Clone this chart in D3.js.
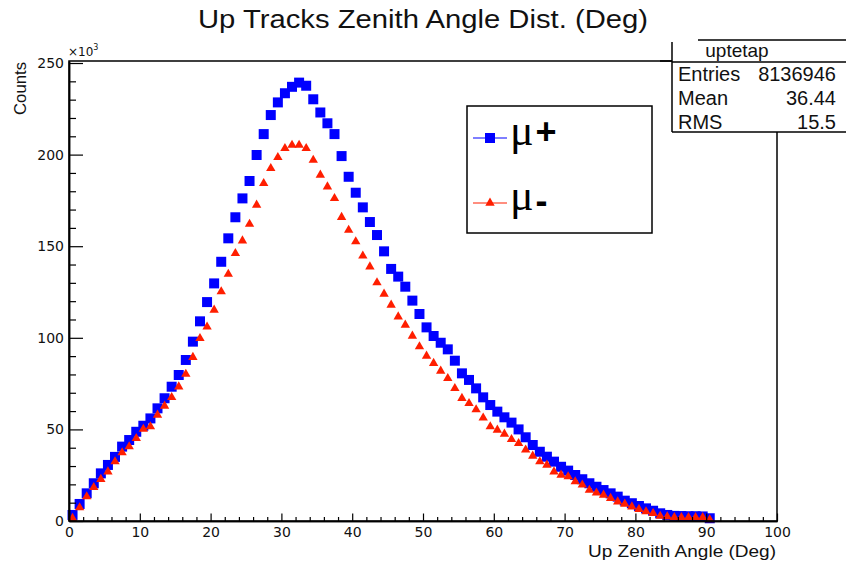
<!DOCTYPE html>
<html>
<head>
<meta charset="utf-8">
<script src="https://cdn.jsdelivr.net/npm/d3@7"></script>
<style>
  html, body { margin: 0; padding: 0; background: #fff; }
  svg { display: block; }
</style>
</head>
<body>
<svg id="chart" width="846" height="568"></svg>
<script>
// ---------------- DATA ----------------
const binLow = 0;           // first bin low edge (deg)
const binWidth = 1;         // bin width (deg)
// mu+ counts (x10^3) per 1-degree bin, 0..91 deg
const muPlus = [
  3.3, 9.3, 15.1, 20.6, 26.0, 30.6, 35.0, 40.6, 44.2, 48.7,
  52.0, 56.0, 61.5, 67.0, 73.3, 79.7, 87.9, 97.9, 109.0, 119.5,
  129.7, 141.5, 154.3, 165.8, 176.1, 185.6, 199.8, 211.2, 221.6, 228.5,
  233.5, 237.0, 239.3, 237.6, 230.2, 223.0, 217.1, 211.2, 199.2, 187.9,
  179.2, 171.2, 163.2, 156.1, 147.2, 137.6, 133.4, 127.9, 120.3, 113.0,
  105.7, 101.0, 97.3, 93.7, 87.5, 80.6, 77.0, 72.4, 67.5, 63.3,
  59.7, 56.6, 53.7, 50.0, 45.7, 41.5, 37.8, 35.1, 32.4, 29.6,
  27.5, 25.1, 22.8, 20.6, 18.7, 16.9, 15.1, 13.3, 11.1, 9.7,
  8.2, 6.9, 5.6, 4.2, 3.3, 2.8, 2.7, 2.6, 2.6, 2.5,
  1.5
];
// mu- counts (x10^3)
const muMinus = [
  1.5, 7.3, 13.3, 18.4, 22.8, 26.9, 32.4, 37.3, 40.6, 45.1,
  50.2, 51.5, 57.9, 62.8, 67.5, 73.3, 80.2, 89.4, 99.7, 106.0,
  115.2, 125.2, 134.8, 146.1, 153.0, 162.1, 172.5, 184.3, 192.5, 198.5,
  203.4, 205.2, 205.2, 203.4, 197.0, 188.9, 182.5, 176.1, 165.8, 158.8,
  152.5, 144.7, 138.8, 130.1, 123.9, 117.9, 111.5, 107.0, 101.0, 95.2,
  90.1, 86.1, 81.9, 77.9, 72.4, 67.0, 64.2, 60.8, 56.3, 51.5,
  49.7, 47.5, 44.6, 42.4, 38.8, 35.5, 32.4, 30.6, 26.9, 25.1,
  24.2, 21.5, 19.7, 16.9, 15.4, 14.2, 12.4, 10.5, 9.3, 7.8,
  6.4, 5.1, 4.2, 2.7, 2.4, 2.0, 2.0, 2.0, 2.0, 2.0,
  0.8
];
const xMajorTicks = [0, 10, 20, 30, 40, 50, 60, 70, 80, 90, 100];
const xMinorTicks = [2,4,6,8,12,14,16,18,22,24,26,28,32,34,36,38,42,44,46,48,52,54,56,58,62,64,66,68,72,74,76,78,82,84,86,88,92,94,96,98];
const yMajorTicks = [0, 50, 100, 150, 200, 250];
const yMinorTicks = [10,20,30,40,60,70,80,90,110,120,130,140,160,170,180,190,210,220,230,240];
const titleText = "Up Tracks Zenith Angle Dist. (Deg)";
const xLabel = "Up Zenith Angle (Deg)";
const yLabel = "Counts";
const statsName = "uptetap";
const statsRows = [["Entries", "8136946"], ["Mean", "36.44"], ["RMS", "15.5"]];
const legendEntries = [
  { base: "μ", sup: "+", color: "#0000ff", shape: "square" },
  { base: "μ", sup: "-", color: "#ff1e00", shape: "triangle" }
];

// ---------------- CHART ----------------
const svg = d3.select("#chart");
const FONT = "'Liberation Sans', Arial, Helvetica, sans-serif";
const TICKFONT = "'DejaVu Sans', sans-serif";

const x = d3.scaleLinear().domain([0, 100]).range([69, 777]);
const y = d3.scaleLinear().domain([0, 251.1]).range([521, 61]);

// Title
svg.append("text")
  .attr("x", 423).attr("y", 28)
  .attr("text-anchor", "middle")
  .attr("font-family", FONT).attr("font-size", 25)
  .attr("textLength", 450).attr("lengthAdjust", "spacingAndGlyphs")
  .attr("fill", "#111")
  .text(titleText);

// Data markers (mu+ first, mu- on top)
const centers = muPlus.map((_, i) => binLow + binWidth * (i + 0.5));
const gPlus = svg.append("g");
gPlus.selectAll("path").data(muPlus).join("path")
  .attr("transform", (d, i) => `translate(${x(centers[i])},${y(d)})`)
  .attr("d", d3.symbol(d3.symbolSquare, 100))
  .attr("fill", legendEntries[0].color);

const gMinus = svg.append("g");
gMinus.selectAll("path").data(muMinus).join("path")
  .attr("transform", (d, i) => `translate(${x(centers[i])},${y(d)})`)
  .attr("d", d3.symbol(d3.symbolTriangle, 38))
  .attr("fill", legendEntries[1].color);

// Frame
svg.append("rect")
  .attr("x", 69).attr("y", 61).attr("width", 777 - 69).attr("height", 521 - 61)
  .attr("fill", "none").attr("stroke", "#000").attr("stroke-width", 1.5);

// Axes
const xAxisMajor = d3.axisBottom(x).tickValues(xMajorTicks).tickSizeInner(-7.5).tickSizeOuter(0).tickPadding(6)
  .tickFormat(d3.format("d"));
const xAxisMinor = d3.axisBottom(x).tickValues(xMinorTicks).tickSizeInner(-4).tickSizeOuter(0).tickFormat("");
const yAxisMajor = d3.axisLeft(y).tickValues(yMajorTicks).tickSizeInner(-14).tickSizeOuter(0).tickPadding(5)
  .tickFormat(d3.format("d"));
const yAxisMinor = d3.axisLeft(y).tickValues(yMinorTicks).tickSizeInner(-7).tickSizeOuter(0).tickFormat("");

function styleAxis(g) {
  g.select(".domain").attr("stroke", "#000").attr("stroke-width", 1.5);
  g.selectAll(".tick line").attr("stroke", "#000").attr("stroke-width", 1.2);
  g.selectAll(".tick text").attr("font-family", TICKFONT).attr("font-size", 14).attr("fill", "#111");
}
svg.append("g").attr("transform", "translate(0,521)").call(xAxisMinor).call(styleAxis);
svg.append("g").attr("transform", "translate(0,521)").call(xAxisMajor).call(styleAxis);
svg.append("g").attr("transform", "translate(69,0)").call(yAxisMinor).call(styleAxis);
svg.append("g").attr("transform", "translate(69,0)").call(yAxisMajor).call(styleAxis);

// x10^3 multiplier
const mult = svg.append("text")
  .attr("x", 68).attr("y", 56)
  .attr("font-family", TICKFONT).attr("font-size", 12).attr("fill", "#111");
mult.append("tspan").text("×10");
mult.append("tspan").attr("dy", -6).attr("font-size", 8).text("3");

// Axis titles
svg.append("text")
  .attr("x", 776).attr("y", 557)
  .attr("text-anchor", "end")
  .attr("font-family", FONT).attr("font-size", 16)
  .attr("textLength", 188).attr("lengthAdjust", "spacingAndGlyphs")
  .attr("fill", "#111")
  .text(xLabel);

svg.append("text")
  .attr("transform", "translate(26,62) rotate(-90)")
  .attr("text-anchor", "end")
  .attr("font-family", FONT).attr("font-size", 17)
  .attr("textLength", 53).attr("lengthAdjust", "spacingAndGlyphs")
  .attr("fill", "#111")
  .text(yLabel);

// Stats box
const sb = svg.append("g");
sb.append("rect").attr("x", 672).attr("y", 40).attr("width", 190).attr("height", 92)
  .attr("fill", "#fff").attr("stroke", "none");
sb.append("line").attr("x1", 698).attr("x2", 846).attr("y1", 40).attr("y2", 40).attr("stroke", "#000").attr("stroke-width", 1.5);
sb.append("line").attr("x1", 672).attr("x2", 672).attr("y1", 42).attr("y2", 132).attr("stroke", "#000").attr("stroke-width", 1.5);
sb.append("line").attr("x1", 672).attr("x2", 846).attr("y1", 62).attr("y2", 62).attr("stroke", "#000").attr("stroke-width", 1.5);
sb.append("line").attr("x1", 672).attr("x2", 846).attr("y1", 132).attr("y2", 132).attr("stroke", "#000").attr("stroke-width", 1.5);
sb.append("line").attr("x1", 660).attr("x2", 672).attr("y1", 61).attr("y2", 61).attr("stroke", "#000").attr("stroke-width", 1.5);
sb.append("text").attr("x", 737).attr("y", 57).attr("text-anchor", "middle")
  .attr("font-family", FONT).attr("font-size", 19).attr("fill", "#111").text(statsName);
statsRows.forEach((r, i) => {
  const by = 81 + i * 24;
  sb.append("text").attr("x", 678).attr("y", by)
    .attr("font-family", FONT).attr("font-size", 20).attr("fill", "#111").text(r[0]);
  sb.append("text").attr("x", 836).attr("y", by).attr("text-anchor", "end")
    .attr("font-family", FONT).attr("font-size", 20).attr("fill", "#111").text(r[1]);
});

// Legend
const lg = svg.append("g");
lg.append("rect").attr("x", 467).attr("y", 106).attr("width", 185).attr("height", 127)
  .attr("fill", "#fff").attr("stroke", "#000").attr("stroke-width", 1.5);
legendEntries.forEach((e, i) => {
  const cy = i === 0 ? 138 : 203;
  lg.append("line").attr("x1", 473).attr("x2", 507).attr("y1", cy).attr("y2", cy)
    .attr("stroke", e.color).attr("stroke-width", 1.2);
  lg.append("path").attr("transform", `translate(490,${cy})`)
    .attr("d", d3.symbol(e.shape === "square" ? d3.symbolSquare : d3.symbolTriangle, e.shape === "square" ? 100 : 38))
    .attr("fill", e.color);
  const t = lg.append("text").attr("x", 510).attr("y", cy + 7)
    .attr("font-family", "'Liberation Serif', 'DejaVu Serif', serif").attr("font-size", 44).attr("fill", "#000");
  t.append("tspan").text(e.base);
  t.append("tspan")
    .attr("font-family", FONT).attr("font-weight", "bold").attr("font-size", 36)
    .attr("dx", 2).attr("dy", i === 0 ? -1 : 3)
    .text(e.sup);
});
</script>
</body>
</html>
